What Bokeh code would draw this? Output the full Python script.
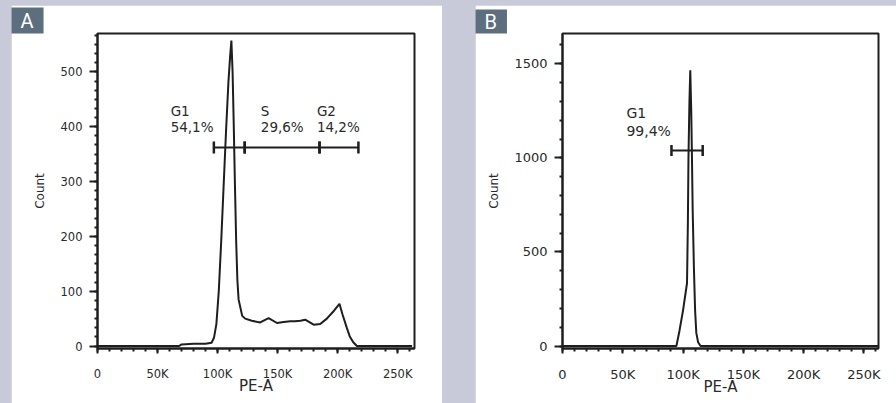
from bokeh.plotting import figure
from bokeh.layouts import row
from bokeh.models import Range1d, FixedTicker
from bokeh.core.properties import value
from bokeh.embed import file_html
from bokeh.resources import INLINE
import math

# ---------------- data ----------------
a_pe = [0, 68000, 70000, 80000, 90000, 95000, 97000, 99000, 101000, 103000,
        105000, 107000, 109000, 110500, 111500, 112500, 113500, 114500, 115500,
        116500, 117500, 119000, 120500, 123000, 128500, 135500, 142500, 149500,
        155000, 160500, 164500, 169000, 173000, 180000, 185500, 191000, 196000,
        201500, 204000, 207500, 210000, 213000, 216000, 262000]
a_count = [0, 0, 3, 4, 4, 6, 15, 40, 100, 190,
           290, 390, 480, 530, 557, 500, 400, 290, 190,
           120, 85, 70, 55, 50, 46, 43, 51, 42,
           44, 45, 45, 46, 48, 39, 40, 50, 62,
           77, 58, 34, 18, 7, 0, 0]

b_pe = [0, 94500, 97000, 100000, 103300, 104000, 104500, 105300, 106000,
        106800, 107400, 108000, 109000, 110000, 111000, 112500, 114500, 262000]
b_count = [0, 0, 80, 190, 335, 650, 1000, 1300, 1465,
           1250, 1000, 720, 420, 190, 70, 20, 0, 0]

x_ticks = [0, 50000, 100000, 150000, 200000, 250000]
x_tick_labels = ["0", "50K", "100K", "150K", "200K", "250K"]
a_y_ticks = [0, 100, 200, 300, 400, 500]
b_y_ticks = [0, 500, 1000, 1500]

a_gate_names = ["G1", "S", "G2"]
a_gate_pcts = ["54,1%", "29,6%", "14,2%"]
a_gate_start = [96900, 122600, 184900]
a_gate_end = [122600, 184900, 217300]
a_gate_level = 362
a_label_x = [60900, 136000, 182700]

b_gate_names = ["G1"]
b_gate_pcts = ["99,4%"]
b_gate_start = [90400]
b_gate_end = [116300]
b_gate_level = 1039
b_label_x = [53000]

BG = "#c8cad9"
SLATE = "#5d6e7e"
INK = "#1e1e1e"
TXT = "#2a2a2a"


def style_axes(p, yt, y_minor, tick_px, ylab_standoff, ytick_standoff):
    p.xaxis.ticker = FixedTicker(ticks=x_ticks, minor_ticks=list(range(0, 262145, 10000)))
    p.xaxis.major_label_overrides = dict(zip(x_ticks, x_tick_labels))
    p.yaxis.ticker = FixedTicker(ticks=yt, minor_ticks=y_minor)
    for ax in (p.xaxis[0], p.yaxis[0]):
        ax.axis_line_color = INK
        ax.axis_line_width = 2
        ax.major_tick_line_color = INK
        ax.major_tick_line_width = 2
        ax.minor_tick_line_color = INK
        ax.minor_tick_line_width = 2
        ax.major_tick_in = 0
        ax.minor_tick_in = 0
        ax.major_label_text_font = "DejaVu Sans"
        ax.major_label_text_font_size = tick_px
        ax.major_label_text_color = TXT
        ax.axis_label_text_font = "DejaVu Sans"
        ax.axis_label_text_font_style = "normal"
        ax.axis_label_text_color = TXT
    p.xaxis.major_tick_out = 5
    p.xaxis.minor_tick_out = 3
    p.xaxis.major_label_standoff = 13
    p.xaxis.axis_label = "PE-A"
    p.xaxis.axis_label_text_font_size = "15px"
    p.xaxis.axis_label_standoff = -7
    p.yaxis.major_tick_out = 8
    p.yaxis.minor_tick_out = 3
    p.yaxis.major_label_standoff = ytick_standoff
    p.yaxis.axis_label = "Count"
    p.yaxis.axis_label_text_font_size = "12px"
    p.yaxis.axis_label_standoff = ylab_standoff
    p.yaxis.major_label_orientation = "horizontal"


def make_panel(letter, w, h, bl, br, bt, bb, margin_left, xr, yr, yt, y_minor,
               xs, ys, g_start, g_end, g_level, g_names, g_pcts, g_lx,
               name_y, pct_y, tick_px, ann_px, cap_px, ylab_standoff, ytick_standoff,
               title_pad):
    p = figure(width=w, height=h, output_backend="svg", toolbar_location=None,
               x_range=Range1d(*xr), y_range=Range1d(*yr), title=letter,
               min_border_left=bl, min_border_right=br, min_border_top=bt,
               min_border_bottom=bb, margin=(5, 0, 0, margin_left))
    p.grid.visible = False
    p.background_fill_color = "white"
    p.border_fill_color = "white"
    p.outline_line_color = INK
    p.outline_line_width = 2
    style_axes(p, yt, y_minor, tick_px, ylab_standoff, ytick_standoff)

    p.line(xs, ys, line_color=INK, line_width=2)

    p.segment(x0=g_start, y0=[g_level] * len(g_start), x1=g_end, y1=[g_level] * len(g_start),
              line_color=INK, line_width=2)
    p.dash(x=g_start + g_end, y=[g_level] * (2 * len(g_start)), size=cap_px,
           angle=math.pi / 2, line_color=INK, line_width=2.5)

    p.text(x=g_lx, y=[name_y] * len(g_lx), text=g_names, text_font=value("DejaVu Sans"),
           text_font_size=ann_px, text_color=TXT, text_baseline="alphabetic")
    p.text(x=g_lx, y=[pct_y] * len(g_lx), text=g_pcts, text_font=value("DejaVu Sans"),
           text_font_size=ann_px, text_color=TXT, text_baseline="alphabetic")

    # panel letter box (title with filled background; padding = left, right, top, bottom)
    t = p.title
    t.align = "left"
    t.offset = -bl
    t.standoff = 0
    t.text_color = "white"
    t.text_font = "Roboto"
    t.text_font_style = "normal"
    t.text_font_size = "20px"
    t.background_fill_color = SLATE
    t.padding = title_pad
    return p


pA = make_panel("A", 431, 398, 86, 28, 28, 55, 11, (0, 264000), (-4.5, 570),
                a_y_ticks, [i * 100 / 6 for i in range(0, 35)],
                a_pe, a_count, a_gate_start, a_gate_end, a_gate_level,
                a_gate_names, a_gate_pcts, a_label_x, 428, 399,
                "11.5px", "13.5px", 12, 11, 7, (9, 10, 1, 1))
pB = make_panel("B", 421, 398, 87, 18, 26, 55, 33, (0, 262144), (-13, 1661),
                b_y_ticks, list(range(0, 1661, 100)),
                b_pe, b_count, b_gate_start, b_gate_end, b_gate_level,
                b_gate_names, b_gate_pcts, b_label_x, 1238, 1143,
                "13px", "14px", 11, 10, 7, (9, 10, 0, 0))

layout = row(pA, pB, styles={"background-color": BG})

open("out.html", "w").write(file_html(layout, INLINE))
